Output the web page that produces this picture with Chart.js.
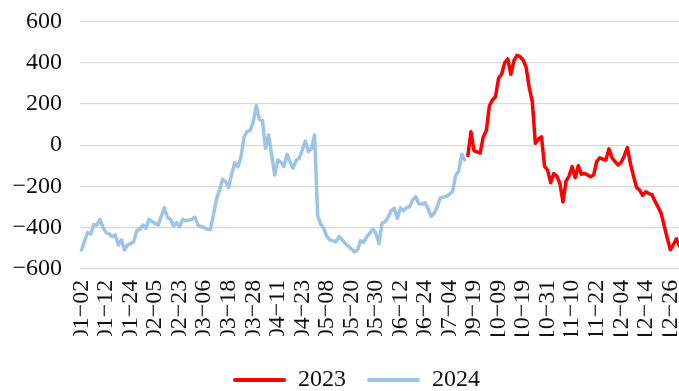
<!DOCTYPE html>
<html>
<head>
<meta charset="utf-8">
<script src="https://cdn.jsdelivr.net/npm/chart.js@4"></script>
<style>
  html, body { margin: 0; padding: 0; overflow: hidden; background: #fff; }
  #wrap { position: relative; width: 682px; height: 391px; }
</style>
</head>
<body>
<div id="wrap"><canvas id="chart"></canvas></div>
<script>
// trading days shown on the category axis
const dates2024 = [
  '01-02','01-03','01-04','01-05','01-08','01-09','01-10','01-11','01-12','01-15','01-16','01-17','01-18','01-19','01-22','01-23','01-24','01-25','01-26','01-29','01-30','01-31',
  '02-01','02-02','02-05','02-06','02-07','02-08','02-19','02-20','02-21','02-22','02-23','02-26','02-27','02-28','02-29',
  '03-01','03-04','03-05','03-06','03-07','03-08','03-11','03-12','03-13','03-14','03-15','03-18','03-19','03-20','03-21','03-22','03-25','03-26','03-27','03-28','03-29',
  '04-01','04-02','04-03','04-08','04-09','04-10','04-11','04-12','04-15','04-16','04-17','04-18','04-19','04-22','04-23','04-24','04-25','04-26','04-29','04-30',
  '05-06','05-07','05-08','05-09','05-10','05-13','05-14','05-15','05-16','05-17','05-20','05-21','05-22','05-23','05-24','05-27','05-28','05-29','05-30','05-31',
  '06-03','06-04','06-05','06-06','06-07','06-11','06-12','06-13','06-14','06-17','06-18','06-19','06-20','06-21','06-24','06-25','06-26','06-27','06-28',
  '07-01','07-02','07-03','07-04','07-05','07-08','07-09','07-10','07-11'
];
const dates2023 = [
  '09-15','09-18','09-19','09-20','09-21','09-22','09-25','09-26','09-27','09-28',
  '10-09','10-10','10-11','10-12','10-13','10-16','10-17','10-18','10-19','10-20','10-23','10-24','10-25','10-26','10-27','10-30','10-31',
  '11-01','11-02','11-03','11-06','11-07','11-08','11-09','11-10','11-13','11-14','11-15','11-16','11-17','11-20','11-21','11-22','11-23','11-24','11-27','11-28','11-29','11-30',
  '12-01','12-04','12-05','12-06','12-07','12-08','12-11','12-12','12-13','12-14','12-15','12-18','12-19','12-20','12-21','12-22','12-25','12-26','12-27','12-28','12-29'
];

const values2024 = [
  -510, -465, -425, -432, -385, -388, -360, -400, -425, -431,
  -444, -436, -485, -460, -509, -485, -478, -470, -415, -408,
  -388, -404, -360, -371, -380, -388, -345, -304, -350, -360,
  -393, -376, -396, -360, -367, -364, -360, -350, -388, -396,
  -400, -408, -410, -340, -262, -218, -166, -177, -205, -137,
  -85, -105, -56, 40, 66, 72, 114, 192, 126, 119,
  -15, 50, -48, -145, -72, -83, -104, -44, -80, -112,
  -72, -64, -23, 20, -32, -15, 50, -340, -385, -404,
  -444, -460, -465, -469, -444, -460, -477, -490, -505, -517,
  -509, -465, -472, -444, -428, -407, -428, -478, -380, -372,
  -350, -318, -307, -355, -305, -318, -303, -299, -266, -250,
  -285, -286, -280, -307, -346, -331, -300, -256, -252, -248,
  -238, -226, -147, -125, -44, -72
];
const values2023 = [
  -50, 66, -27, -33, -39, 40, 70, 190, 220, 235,
  325, 345, 400, 419, 344, 410, 437, 430, 414, 378,
  280, 213, 9, 29, 41, -102, -122, -182, -138, -150,
  -185, -276, -175, -150, -104, -158, -100, -141, -137, -145,
  -153, -145, -80, -61, -68, -72, -18, -61, -80, -96,
  -83, -51, -12, -88, -150, -205, -218, -244, -226, -235,
  -240, -272, -300, -330, -390, -450, -508, -484, -455, -490
];

const seriesNames = ['2023', '2024'];
const seriesColors = ['#ff0000', '#9dc3e6'];
const yMin = -600, yMax = 600, yStep = 200;

// one shared category axis: 2024 runs first, 2023 picks up after it
const categories = dates2024.concat(dates2023);
const line2024 = values2024.concat(dates2023.map(() => null));
const line2023 = dates2024.map(() => null).concat(values2023);

const FONT = { family: '"Liberation Serif", "Times New Roman", serif', size: 24 };
const TEXT = '#111111';

// move the bottom legend a little right/down of where Chart.js centres it
const legendShift = {
  id: 'legendShift',
  afterLayout(chart) {
    const l = chart.legend;
    l.left += 16; l.right += 16;
    l.top += 11; l.bottom += 11;
  }
};

new Chart(document.getElementById('chart'), {
  type: 'line',
  data: {
    labels: categories,
    datasets: [
      {
        label: seriesNames[0], data: line2023,
        borderColor: seriesColors[0], backgroundColor: seriesColors[0],
        borderWidth: 3.5, pointRadius: 0, tension: 0,
        borderJoinStyle: 'round', borderCapStyle: 'round'
      },
      {
        label: seriesNames[1], data: line2024,
        borderColor: seriesColors[1], backgroundColor: seriesColors[1],
        borderWidth: 3.5, pointRadius: 0, tension: 0,
        borderJoinStyle: 'round', borderCapStyle: 'round'
      }
    ]
  },
  options: {
    responsive: true,
    maintainAspectRatio: false,
    animation: false,
    layout: { padding: { top: 21.7, right: 1, left: 0, bottom: 0 } },
    plugins: {
      tooltip: { enabled: false },
      legend: {
        position: 'bottom',
        labels: {
          boxWidth: 53, boxHeight: 4, padding: 21, color: TEXT, font: FONT,
          generateLabels(chart) {
            return chart.data.datasets.map((ds, i) => ({
              text: ds.label, fillStyle: ds.borderColor, strokeStyle: ds.borderColor,
              lineWidth: 0, borderRadius: 2, hidden: false, datasetIndex: i, fontColor: TEXT
            }));
          }
        }
      }
    },
    scales: {
      x: {
        offset: true,
        grid: { display: false, drawTicks: false },
        border: { display: false },
        ticks: {
          autoSkip: false, maxRotation: 90, minRotation: 90, padding: 11,
          color: TEXT, font: FONT,
          callback: (v, i) => (i % 8 === 0 ? categories[i].replace('-', '\u2212') : '')
        },
        afterFit(s) {
          s.height = s.chart.height - 268.7 - s.chart.legend.height;
          s.paddingLeft = 0; s.paddingRight = 0;
        }
      },
      y: {
        min: yMin, max: yMax,
        ticks: {
          stepSize: yStep, padding: 18, color: TEXT, font: FONT,
          callback: v => (v < 0 ? '\u2212' + (-v) : String(v))
        },
        grid: { color: '#d9d9d9', lineWidth: 1.3, drawTicks: false },
        border: { display: false },
        afterFit(s) {
          s.width = 80;
          s.paddingTop = 0; s.paddingBottom = 0;
        }
      }
    }
  },
  plugins: [legendShift]
});
</script>
</body>
</html>
